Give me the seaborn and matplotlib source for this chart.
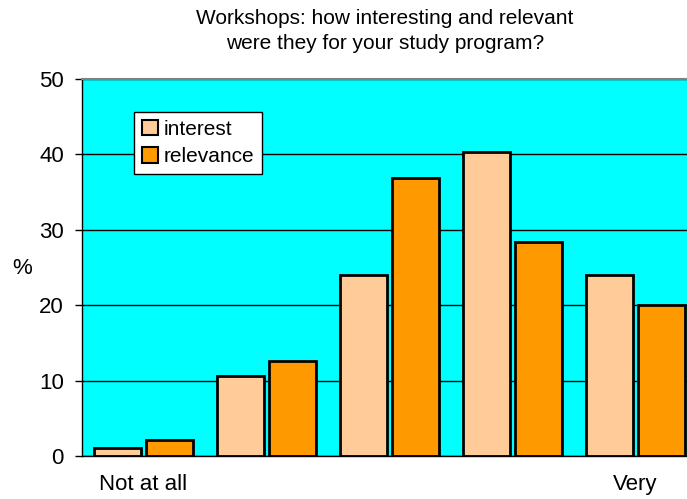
import matplotlib
matplotlib.use("Agg")
import matplotlib.pyplot as plt
import seaborn as sns
import pandas as pd

categories = ["Not at all", "2", "3", "4", "Very"]
tick_labels = ["Not at all", "", "", "", "Very"]
series_names = ["interest", "relevance"]
interest = [1.0, 10.6, 24.0, 40.3, 24.0]
relevance = [2.1, 12.6, 36.9, 28.4, 20.0]
colors = ["#FFCC99", "#FF9900"]

df = pd.DataFrame({
    "cat": categories * 2,
    "val": interest + relevance,
    "series": [series_names[0]] * 5 + [series_names[1]] * 5,
})

sns.set_style("white")
plt.rcParams["font.family"] = ["Liberation Sans", "DejaVu Sans"]
plt.rcParams["text.color"] = "black"
plt.rcParams["axes.labelcolor"] = "black"
plt.rcParams["xtick.color"] = "black"
plt.rcParams["ytick.color"] = "black"

fig = plt.figure(figsize=(6.87, 4.99), dpi=100)
ax = fig.add_axes([82 / 687, 43 / 499, 615 / 687, 377 / 499])
ax.set_facecolor("#00FFFF")

sns.barplot(data=df, x="cat", y="val", hue="series", order=categories,
            hue_order=series_names, palette=colors, width=0.86, gap=0.112,
            edgecolor="black", linewidth=2, saturation=1, ax=ax, legend=True)

ax.set_xlim(-0.5, 4.5)
ax.set_ylim(0, 50)
ax.set_yticks([0, 10, 20, 30, 40, 50])
ax.yaxis.grid(True, color="black", linewidth=1)
ax.xaxis.grid(False)
ax.set_axisbelow(True)

ax.set_xticks(range(5))
ax.set_xticklabels(tick_labels, fontsize=16, color="black")
ax.set_xticks([-0.5, 0.5, 1.5, 2.5, 3.5, 4.5], minor=True)
ax.tick_params(axis="x", which="major", length=0, pad=13, labelcolor="black")
ax.tick_params(axis="x", which="minor", length=5, width=1, color="black", direction="out")
ax.tick_params(axis="y", which="major", length=5, width=1, color="black",
               direction="out", labelsize=16, pad=8, left=True, labelcolor="black")

ax.set_xlabel("")
ax.set_ylabel("%", fontsize=16, rotation=0, va="center", color="black")
ax.yaxis.set_label_coords(-0.097, 0.498)

for side in ["left", "bottom"]:
    ax.spines[side].set_color("black")
    ax.spines[side].set_linewidth(1)
ax.spines["top"].set_color("#808080")
ax.spines["top"].set_linewidth(1.5)
ax.spines["right"].set_color("#808080")

leg = ax.legend(loc="upper left", bbox_to_anchor=(0.0846, 0.9125), borderaxespad=0,
                fancybox=False, edgecolor="black", framealpha=1, fontsize=15,
                handlelength=0.75, handleheight=0.75, handletextpad=0.3,
                borderpad=0.38, labelspacing=0.4)
leg.get_frame().set_linewidth(1)
for h in leg.legend_handles:
    h.set_linewidth(1.5)
for t in leg.get_texts():
    t.set_color("black")

fig.text(0.5605, 0.937, "Workshops: how interesting and relevant\nwere they for your study program?",
         ha="center", va="center", fontsize=15, linespacing=1.4, color="black")

fig.savefig("out.png", dpi=100)
